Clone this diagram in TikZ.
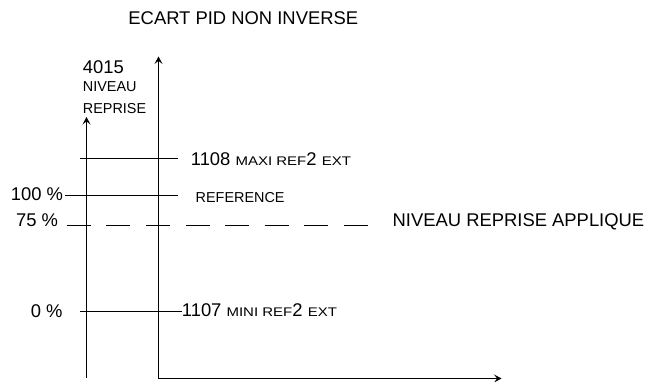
\documentclass[tikz,border=0pt]{standalone}
\usepackage{fontspec}
\setmainfont{Liberation Sans}
\newfontfamily\smwidefont[FakeStretch=1.2]{Liberation Sans}
\usetikzlibrary{arrows.meta}
\newcommand\smtxt[1]{{\smwidefont\fontsize{12.5}{12.5}\selectfont #1}}
\begin{document}
\begin{tikzpicture}[x=1pt,y=-1pt,
  axisline/.style={line width=0.9pt},
  headtip/.tip={Stealth[length=7.5pt,width=8pt,inset=3.2pt]},
  tip/.style={-headtip},
  lbl/.style={inner sep=0pt,anchor=base west,font=\fontsize{18.4}{18.4}\selectfont},
  smlbl/.style={lbl,font=\fontsize{14.4}{14.4}\selectfont},
  dashline/.style={line width=0.9pt,dash pattern=on 24pt off 15.6pt}]
\useasboundingbox (0,0) rectangle (649,382);
% texts
\node[lbl,anchor=base] (title) at (243.3,25) {ECART PID NON INVERSE};
\node[lbl] (n4015) at (82.7,74) {4015};
\node[smlbl] (niveau) at (82.7,92) {NIVEAU};
\node[smlbl] (reprise) at (82.7,114) {REPRISE};
\node[lbl,anchor=base east] (p100) at (63.3,201) {100 \%};
\node[lbl,anchor=base east] (p75) at (58.3,227) {75 \%};
\node[lbl,anchor=base east] (p0) at (62.7,318) {0 \%};
\node[lbl] (maxi) at (190.7,166) {1108 \smtxt{MAXI REF}2 \smtxt{EXT}};
\node[smlbl] (ref) at (195.5,202.5) {REFERENCE};
\node[lbl] (mini) at (181.7,316.5) {1107 \smtxt{MINI REF}2 \smtxt{EXT}};
\node[lbl] (appl) at (392.5,226.7) {NIVEAU REPRISE APPLIQUE};
% axes
\coordinate (L0) at (86.5,378);
\coordinate (L1) at (86.5,117);
\coordinate (R0) at (158.5,378.5);
\coordinate (R1) at (158.5,56.5);
\coordinate (X1) at (501.5,378.5);
\draw[axisline,tip] (L0) -- (L1);
\draw[axisline,headtip-headtip] (R1) -- (R0) -- (X1);
% level lines
\coordinate (maxA) at (80,158.5);
\coordinate (maxB) at (177.7,158.5);
\draw[axisline] (maxA) -- (maxB);
\coordinate (refB) at (177.7,195.5);
\draw[axisline] ([xshift=2pt]p100.east |- refB) coordinate (refA) -- (refB);
\coordinate (dA) at (66.7,225.5);
\coordinate (dB) at (371.7,225.5);
\draw[dashline] (dA) -- (dB);
\coordinate (minA) at (80,311.5);
\draw[axisline] (minA) -- (minA -| mini.west);
\end{tikzpicture}
\end{document}
